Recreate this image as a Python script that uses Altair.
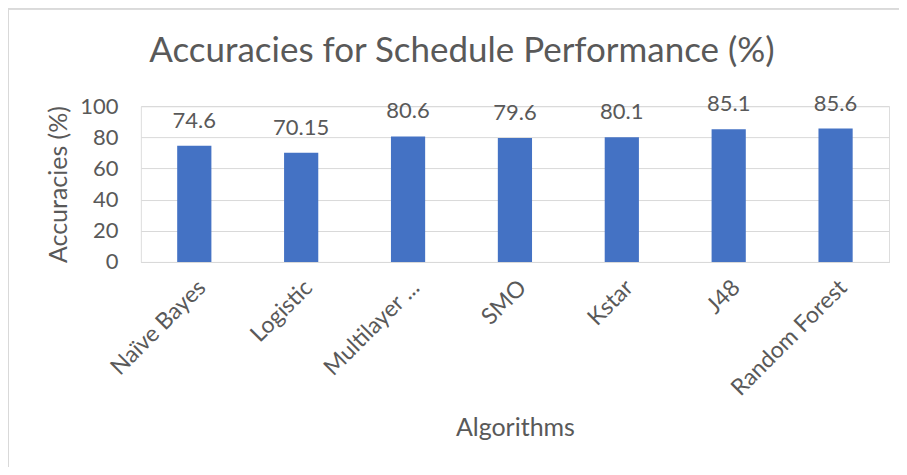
import altair as alt
import pandas as pd

algorithms = ["Naïve Bayes", "Logistic", "Multilayer Perceptron", "SMO", "Kstar", "J48", "Random Forest"]
accuracies = [74.6, 70.15, 80.6, 79.6, 80.1, 85.1, 85.6]
value_labels = ["74.6", "70.15", "80.6", "79.6", "80.1", "85.1", "85.6"]
y_ticks = [0, 20, 40, 60, 80, 100]

df = pd.DataFrame({"Algorithm": algorithms, "Accuracy": accuracies, "Label": value_labels})

FONT = "Lato"
TEXT = "#595959"
GRID = "#D9D9D9"
BAR = "#4472C4"

x_enc = alt.X(
    "Algorithm:N",
    sort=algorithms,
    scale=alt.Scale(paddingInner=0.68, paddingOuter=0.34),
    axis=alt.Axis(
        title="Algorithms",
        labelAngle=-45,
        labelAlign="right",
        labelBaseline="top",
        labelPadding=14,
        labelExpr="datum.label == 'Multilayer Perceptron' ? 'Multilayer ...' : datum.label",
        labelOverlap=False,
        ticks=False,
        tickSize=0,
        grid=False,
        domain=True,
        domainColor=GRID,
        labelFont=FONT,
        labelFontSize=23,
        labelColor=TEXT,
        titleFont=FONT,
        titleFontSize=25,
        titleColor=TEXT,
        titleFontWeight="normal",
        titlePadding=16,
        labelLimit=300,
    ),
)

y_enc = alt.Y(
    "Accuracy:Q",
    scale=alt.Scale(domain=[0, 100], nice=False),
    axis=alt.Axis(
        title="Accuracies (%)",
        values=y_ticks,
        labelOverlap=False,
        ticks=False,
        tickSize=0,
        domain=False,
        grid=True,
        gridColor=GRID,
        labelFont=FONT,
        labelFontSize=22,
        labelColor=TEXT,
        labelPadding=23,
        titleFont=FONT,
        titleFontSize=25,
        titleColor=TEXT,
        titleFontWeight="normal",
        titlePadding=8,
    ),
)

base = alt.Chart(df).encode(x=x_enc, y=y_enc)

bars = base.mark_bar(color=BAR)

labels = base.mark_text(
    font=FONT, fontSize=22, color=TEXT, baseline="alphabetic", dy=-18
).encode(text="Label:N")

border_top = alt.Chart(df).mark_rule(color=GRID, strokeWidth=1).encode(
    x=alt.value(-132.5), x2=alt.value(770), y=alt.value(-97.5)
)
border_left = alt.Chart(df).mark_rule(color=GRID, strokeWidth=1).encode(
    x=alt.value(-132.5), y=alt.value(-97.5), y2=alt.value(370)
)

chart = (
    alt.layer(bars, labels, border_top, border_left)
    .properties(
        width=749,
        height=156,
        autosize=alt.AutoSizeParams(type="none"),
        padding={"left": 133, "top": 98, "right": 10, "bottom": 205},
        title=alt.TitleParams(
            text="Accuracies for Schedule Performance (%)",
            font=FONT,
            fontSize=35,
            fontWeight="normal",
            color=TEXT,
            anchor="middle",
            frame="group",
            dx=-53,
            baseline="bottom",
            offset=0,
            dy=96,
        ),
    )
    .configure_axis(grid=False)
    .configure_view(strokeWidth=0)
    .configure(background="white")
)

chart.save("out.html", embed_options={"renderer": "svg", "actions": False})
